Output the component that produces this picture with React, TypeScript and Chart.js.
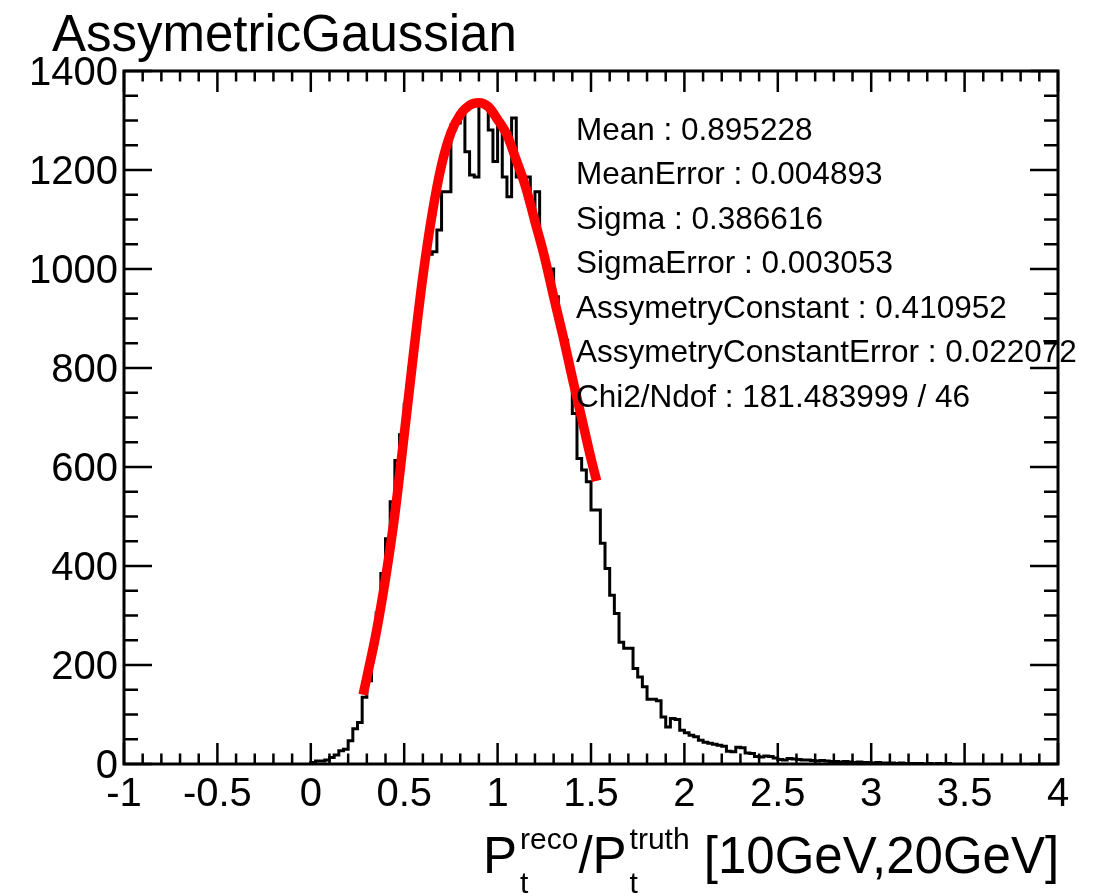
import React, { useEffect, useRef } from "react";
import { Chart, registerables } from "chart.js";

Chart.register(...registerables);

// ---------- data ----------
const BIN_START = 0;
const BIN_WIDTH = 0.025;
const COUNTS = [
  3, 6, 6, 8, 13, 18, 27, 30, 47, 71,
  84, 135, 168, 235, 305, 385, 455, 530, 613, 665,
  727, 800, 871, 950, 1025, 1030, 1035, 1079, 1156, 1156,
  1291, 1295, 1321, 1237, 1190, 1186, 1334, 1330, 1281, 1217,
  1297, 1186, 1146, 1305, 1186, 1186, 1186, 1116, 1156, 1048,
  1005, 1000, 944, 883, 856, 803, 708, 617, 594, 570,
  513, 513, 446, 395, 341, 304, 246, 234, 234, 193,
  176, 156, 131, 131, 128, 95, 75, 92, 90, 68,
  63, 58, 55, 48, 44, 42, 40, 38, 36, 26,
  25, 34, 33, 22, 21, 15, 14, 16, 15, 12,
  9, 8, 11, 10, 9, 8, 8, 7, 6, 7,
  6, 5, 5, 4, 5, 4, 3, 4, 3, 3,
  2, 3, 2, 2, 2, 1, 2, 1, 1, 1,
  1, 0, 1, 0, 1, 0, 1,
];

const FIT_X = [
  0.28, 0.3, 0.35, 0.4, 0.45, 0.5, 0.55, 0.6, 0.65, 0.7, 0.75, 0.8, 0.85, 0.9,
  0.95, 1.0, 1.05, 1.1, 1.15, 1.2, 1.25, 1.3, 1.35, 1.4, 1.45, 1.5, 1.53,
];
const FIT_Y = [
  140, 175, 265, 375, 505, 665, 830, 985, 1112, 1210, 1275, 1312, 1331, 1336,
  1328, 1302, 1271, 1220, 1166, 1096, 1026, 944, 865, 780, 699, 617, 572,
];

const X_TICKS = [-1, -0.5, 0, 0.5, 1, 1.5, 2, 2.5, 3, 3.5, 4];
const Y_TICKS = [0, 200, 400, 600, 800, 1000, 1200, 1400];
const X_MINOR_STEP = 0.1;
const Y_MINOR_STEP = 50;

const TITLE = "AssymetricGaussian";
const STATS = [
  "Mean : 0.895228",
  "MeanError : 0.004893",
  "Sigma : 0.386616",
  "SigmaError : 0.003053",
  "AssymetryConstant : 0.410952",
  "AssymetryConstantError : 0.022072",
  "Chi2/Ndof : 181.483999 / 46",
];
const X_TITLE_PARTS = [
  { text: "P", sup: "reco", sub: "t" },
  { text: "/P", sup: "truth", sub: "t" },
  { text: " [10GeV,20GeV]", sup: "", sub: "" },
];

const FONT = '"Liberation Sans", Arial, Helvetica, sans-serif';

const decorPlugin = {
  id: "rootDecor",
  afterDatasetsDraw(chart: any) {
    const { ctx, chartArea: a, scales } = chart;
    const xs = scales.x;
    const ys = scales.y;
    ctx.save();
    ctx.strokeStyle = "#000";
    ctx.lineWidth = 3;
    ctx.strokeRect(a.left, a.top, a.right - a.left, a.bottom - a.top);

    ctx.lineWidth = 2.5;
    ctx.beginPath();
    const xmin = X_TICKS[0];
    const xmax = X_TICKS[X_TICKS.length - 1];
    const nx = Math.round((xmax - xmin) / X_MINOR_STEP);
    for (let i = 0; i <= nx; i++) {
      const v = xmin + i * X_MINOR_STEP;
      const px = xs.getPixelForValue(v);
      const major = i % 5 === 0;
      const len = major ? 21 : 10.5;
      ctx.moveTo(px, a.bottom);
      ctx.lineTo(px, a.bottom - len);
      ctx.moveTo(px, a.top);
      ctx.lineTo(px, a.top + len);
    }
    const ymax = Y_TICKS[Y_TICKS.length - 1];
    for (let v = 0; v <= ymax; v += Y_MINOR_STEP) {
      const py = ys.getPixelForValue(v);
      const major = v % 200 === 0;
      const len = major ? 28 : 14;
      ctx.moveTo(a.left, py);
      ctx.lineTo(a.left + len, py);
      ctx.moveTo(a.right, py);
      ctx.lineTo(a.right - len, py);
    }
    ctx.stroke();
    ctx.restore();
  },
  afterDraw(chart: any) {
    const { ctx } = chart;
    ctx.save();
    ctx.fillStyle = "#000";
    ctx.textBaseline = "alphabetic";
    ctx.textAlign = "left";
    // title
    ctx.font = `51px ${FONT}`;
    ctx.fillText(TITLE, 52, 51);
    // stats
    ctx.font = `31.5px ${FONT}`;
    ctx.textBaseline = "middle";
    STATS.forEach((s, i) => {
      ctx.fillText(s, 576, 131 + i * 44.5);
    });
    // x axis title
    ctx.textBaseline = "alphabetic";
    let x = 483;
    const base = 873;
    X_TITLE_PARTS.forEach((p) => {
      ctx.font = `51px ${FONT}`;
      ctx.fillText(p.text, x, base);
      x += ctx.measureText(p.text).width;
      if (p.sup || p.sub) {
        ctx.font = `30px ${FONT}`;
        const sx = x + 3;
        ctx.fillText(p.sup, sx, base - 24);
        ctx.fillText(p.sub, sx, base + 20);
        x = sx + Math.max(ctx.measureText(p.sup).width, ctx.measureText(p.sub).width);
      }
    });
    ctx.restore();
  },
};

export default function App() {
  const ref = useRef<HTMLCanvasElement>(null);

  useEffect(() => {
    if (!ref.current) return;
    const histPoints: { x: number; y: number }[] = [{ x: BIN_START, y: 0 }];
    COUNTS.forEach((c, i) => histPoints.push({ x: BIN_START + i * BIN_WIDTH, y: c }));
    histPoints.push({ x: BIN_START + COUNTS.length * BIN_WIDTH, y: 0 });
    const fitPoints = FIT_X.map((x, i) => ({ x, y: FIT_Y[i] }));

    const chart = new Chart(ref.current, {
      type: "line",
      data: {
        datasets: [
          {
            data: fitPoints,
            borderColor: "#ff0000",
            borderWidth: 9.5,
            borderCapStyle: "butt",
            pointRadius: 0,
            fill: false,
            cubicInterpolationMode: "monotone",
            order: 0,
          },
          {
            data: histPoints,
            borderColor: "#000000",
            borderWidth: 3,
            pointRadius: 0,
            fill: false,
            stepped: true,
            order: 1,
          },
        ],
      },
      options: {
        animation: false,
        responsive: false,
        maintainAspectRatio: false,
        events: [],
        layout: { padding: { left: 0, right: 44, top: 71, bottom: 0 } },
        plugins: {
          legend: { display: false },
          tooltip: { enabled: false },
          title: { display: false },
        },
        scales: {
          x: {
            type: "linear",
            min: X_TICKS[0],
            max: X_TICKS[X_TICKS.length - 1],
            grid: { display: false, drawTicks: false },
            border: { display: false },
            ticks: {
              color: "#000",
              font: { family: FONT, size: 40 },
              padding: 7,
              maxRotation: 0,
              autoSkip: false,
              callback: (v: any) => String(v),
            },
            afterBuildTicks: (s: any) => {
              s.ticks = X_TICKS.map((v) => ({ value: v }));
            },
            afterFit: (s: any) => {
              s.height = 132;
            },
          },
          y: {
            type: "linear",
            min: Y_TICKS[0],
            max: Y_TICKS[Y_TICKS.length - 1],
            grid: { display: false, drawTicks: false },
            border: { display: false },
            ticks: {
              color: "#000",
              font: { family: FONT, size: 40 },
              padding: 6,
              labelOffset: 3,
              autoSkip: false,
              callback: (v: any) => String(v),
            },
            afterBuildTicks: (s: any) => {
              s.ticks = Y_TICKS.map((v) => ({ value: v }));
            },
            afterFit: (s: any) => {
              s.width = 124;
            },
          },
        },
      },
      plugins: [decorPlugin],
    } as any);
    return () => chart.destroy();
  }, []);

  return (
    <div style={{ position: "fixed", left: 0, top: 0, width: 1102, height: 896, background: "#fff" }}>
      <canvas ref={ref} width={1102} height={896} style={{ width: 1102, height: 896, display: "block" }} />
    </div>
  );
}
